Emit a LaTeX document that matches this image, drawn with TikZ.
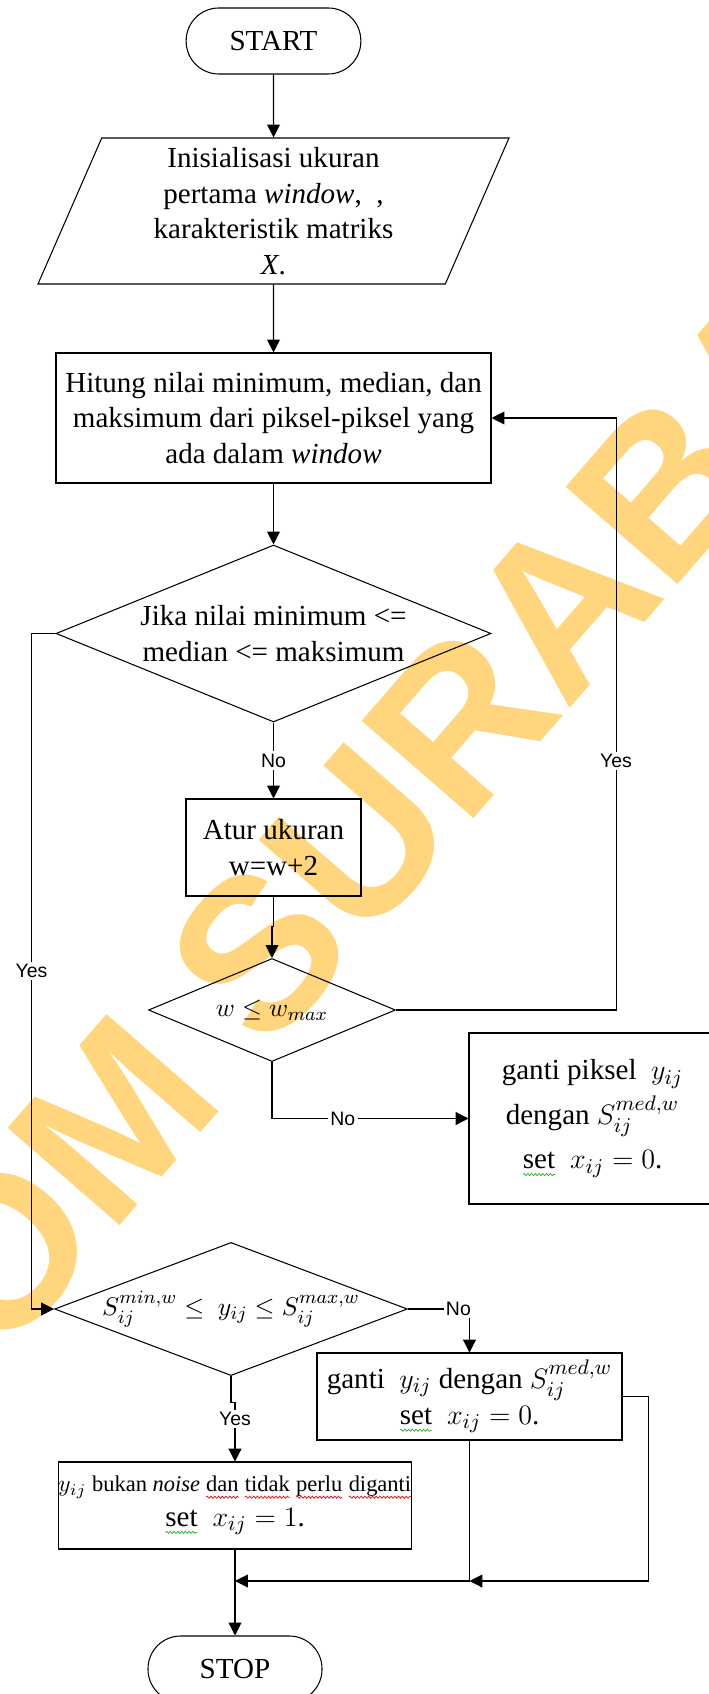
\documentclass[tikz,border=0pt]{standalone}
\usepackage{fontspec}
\setmainfont{Liberation Serif}
\newfontfamily\labelfont{Liberation Sans}
\usetikzlibrary{shapes.geometric,arrows.meta,decorations.pathmorphing}
\definecolor{tanda}{RGB}{255,213,125}
\definecolor{ejaan}{RGB}{40,170,40}
\newcommand\gelombang[2]{\tikz[baseline=(kata.base),x=1cm,y=1cm]{\node[shape=rectangle,draw=none,fill=none,inner sep=0pt,
  outer sep=0pt,minimum width=0pt,minimum height=0pt,anchor=center] (kata) {#2};
  \draw[#1,line width=0.3pt,decorate,decoration={snake,amplitude=0.45pt,segment length=1.6pt}]
  ([yshift=-2.4pt]kata.base west) -- ([yshift=-2.4pt]kata.base east);}}

\begin{document}
\begin{tikzpicture}[x=0.015cm,y=-0.015cm,line width=0.45pt,
  >={Triangle[length=5.5pt,width=5.5pt]},
  kotak/.style={draw,rectangle,inner sep=0pt,align=center,font=\fontsize{12.4}{15}\selectfont},
  terminal/.style={draw,rectangle,rounded corners=0.49cm,minimum width=2.62cm,minimum height=0.99cm,font=\fontsize{12.4}{15}\selectfont},
  ketupat/.style={draw,diamond,inner sep=0pt,align=center},
  ket/.style={font=\labelfont\fontsize{8.3}{10}\selectfont,fill=white,inner sep=1pt}]
\useasboundingbox (0,0) rectangle (709,1694);
\node[rotate=49,text=tanda,font=\labelfont\bfseries\fontsize{92}{94}\selectfont] (cap) at (305,900) {STIKOM SURABAYA};

\node[terminal] (start) at (273.5,41) {START};
\node[draw,trapezium,trapezium left angle=63.43,trapezium right angle=116.57,trapezium stretches body,
  minimum width=7.065cm,minimum height=2.19cm,inner sep=0pt,align=center,font=\fontsize{12.4}{15.2}\selectfont]
  (masukan) at (273.5,211) {Inisialisasi ukuran\\pertama \textit{window},\ \ ,\\karakteristik matriks\\\textit{X}.};
\node[kotak,minimum width=6.525cm,minimum height=1.95cm] (hitung) at (273.5,418)
  {Hitung nilai minimum, median, dan\\maksimum dari piksel-piksel yang\\ada dalam \textit{window}};
\node[ketupat,aspect=2.46,minimum width=6.525cm,minimum height=2.655cm,font=\fontsize{12.4}{15}\selectfont]
  (cek) at (273.5,633.5) {Jika nilai minimum <=\\median <= maksimum};
\node[kotak,minimum width=2.625cm,minimum height=1.455cm] (atur) at (273.5,847.5) {Atur ukuran\\w=w+2};
\node[ketupat,aspect=2.4,minimum width=3.705cm,minimum height=1.545cm,font=\fontsize{11}{13}\selectfont]
  (cekw) at (272,1010) {$w \le w_{max}$};
\node[kotak,minimum width=3.705cm,minimum height=2.565cm,font=\fontsize{12.4}{19}\selectfont] (ganti) at (592.5,1118.5)
  {ganti piksel \ $y_{ij}$\\dengan $S_{ij}^{med,w}$\\\gelombang{ejaan}{set}\ \ $x_{ij}=0$.};
\node[ketupat,aspect=2.65,minimum width=5.16cm,minimum height=1.95cm,font=\fontsize{11}{13}\selectfont]
  (cekpiksel) at (231,1309) {$S_{ij}^{min,w} \le\ y_{ij} \le S_{ij}^{max,w}$};
\node[kotak,minimum width=4.575cm,minimum height=1.305cm,font=\fontsize{12.4}{15.4}\selectfont] (gantidua) at (469.5,1396.5)
  {ganti \ $y_{ij}$ dengan $S_{ij}^{med,w}$\\\gelombang{ejaan}{set}\ \ $x_{ij}=0$.};
\node[kotak,minimum width=5.22cm,minimum height=1.305cm] (bukan) at (235,1505.5)
  {{\fontsize{9.6}{12}\selectfont $y_{ij}$ bukan \textit{noise} \gelombang{red}{dan} \gelombang{red}{tidak} \gelombang{red}{perlu} \gelombang{red}{diganti}}\\\gelombang{ejaan}{set}\ \ $x_{ij}=1$.};
\node[terminal,minimum width=2.61cm] (stop) at (235,1669) {STOP};
\coordinate (gabung) at (235,1581);
\coordinate (gabung2) at (gantidua.south |- gabung);

\draw[->] (start) -- (masukan);
\draw[->] (masukan) -- (hitung);
\draw[->] (hitung) -- (cek);
\draw[->] (cek) -- node[ket]{No} (atur);
\draw[->] (cek.west) -- ++(-24,0) |- node[ket,pos=0.25]{Yes} (cekpiksel.west);
\draw[->] (atur.south) -- ++(0,30) -| (cekw.north);
\draw[->] (cekw.east) -- ++(220,0) |- node[ket,pos=0.21]{Yes} (hitung.east);
\draw[->] (cekw.south) |- node[ket,pos=0.68]{No} (ganti.west);
\draw[->] (cekpiksel.east) -| node[ket,pos=0.41]{No} (gantidua.north);
\draw[->] (cekpiksel.south) -- ++(0,26) -| node[ket,pos=0.64]{Yes} (bukan.north);
\draw[->] (bukan) -- (stop);
\draw[->] (gantidua.south) |- (gabung);
\draw[->] (gantidua.east) -- ++(26,0) |- (gabung2);
\end{tikzpicture}
\end{document}
